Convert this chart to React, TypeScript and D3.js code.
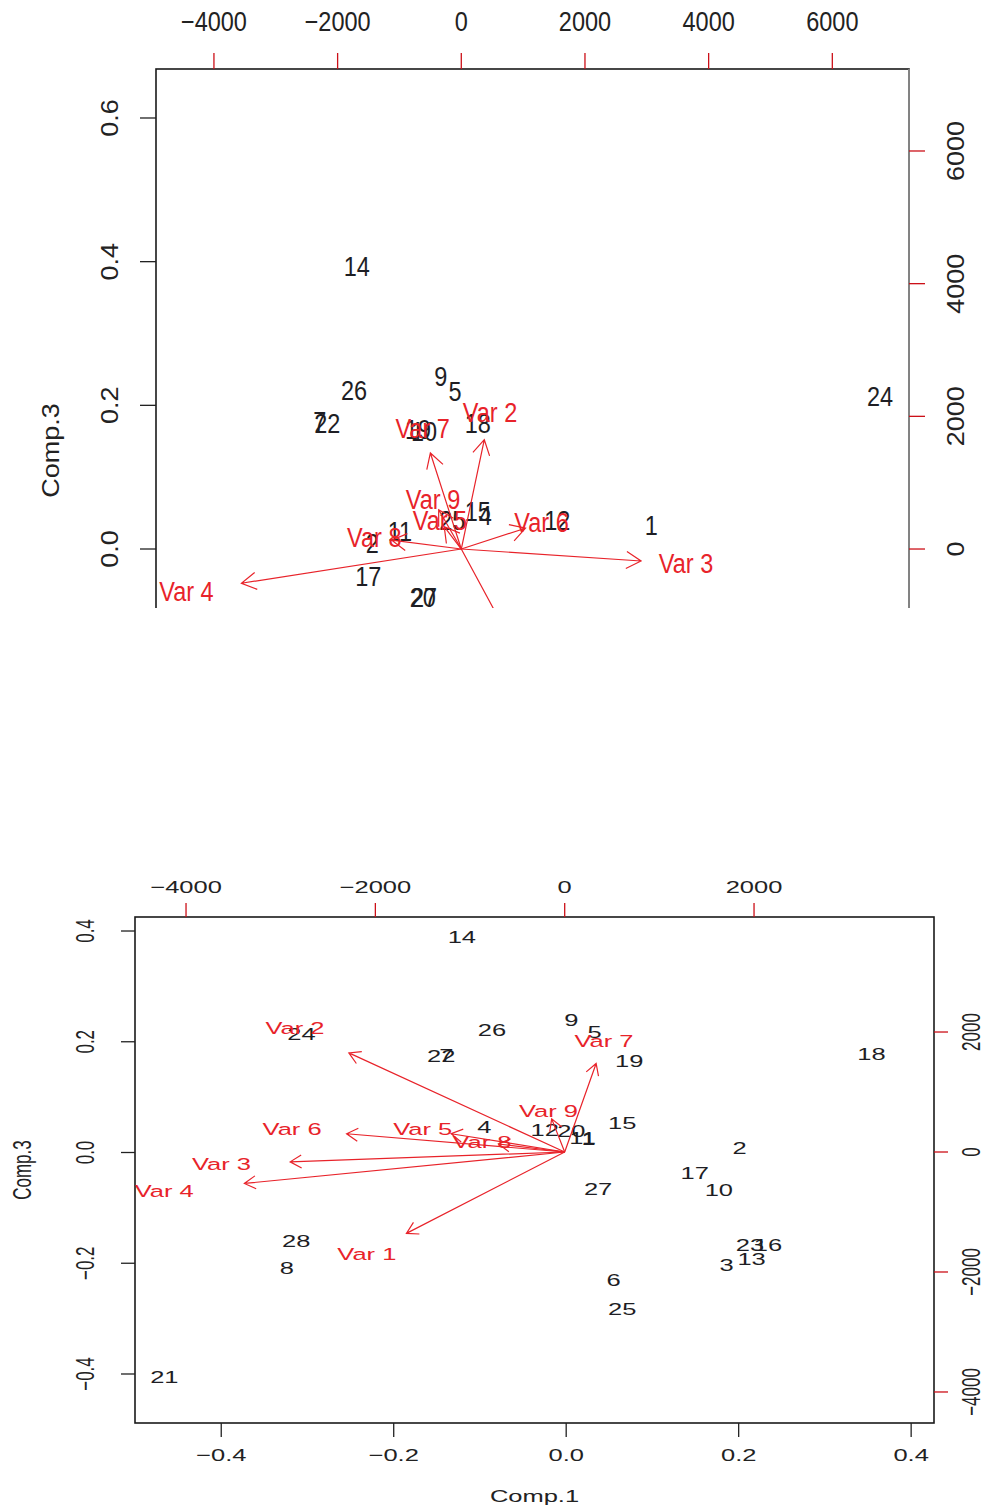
import * as d3 from "d3";
import React from "react";

// ---- upper biplot (cut off at the bottom) ----
const topObsLabels = ["14", "26", "9", "5", "7", "22", "19", "10", "18", "15", "4", "25", "12", "1", "11", "2", "17", "20", "27", "24"];
const topObsX = [-0.152, -0.156, -0.027, -0.006, -0.207, -0.196, -0.061, -0.052, 0.028, 0.028, 0.039, -0.01, 0.146, 0.286, -0.088, -0.129, -0.135, -0.054, -0.052, 0.626];
const topObsY = [0.393, 0.221, 0.24, 0.219, 0.177, 0.174, 0.166, 0.164, 0.175, 0.052, 0.046, 0.039, 0.04, 0.032, 0.024, 0.008, -0.038, -0.068, -0.068, 0.212];

const varLabels = ["Var 1", "Var 2", "Var 3", "Var 4", "Var 5", "Var 6", "Var 7", "Var 8", "Var 9"];
const topVarX = [1211, 465, 3634, -4445, -345, 1298, -625, -1407, -457];
const topVarY = [-2092, 2060, -226, -645, 422, 392, 1810, 166, 739];

const topXTicks = [-4000, -2000, 0, 2000, 4000, 6000];
const topRightTicks = [0, 2000, 4000, 6000];
const topLeftTicks = [0, 0.2, 0.4, 0.6];

// ---- lower biplot ----
const botObsLabels = ["14", "24", "26", "22", "7", "9", "5", "19", "18", "4", "12", "20", "11", "1", "15", "2", "17", "10", "27", "23", "16", "13", "3", "6", "25", "28", "8", "21"];
const botObsX = [-0.121, -0.307, -0.086, -0.145, -0.139, 0.006, 0.033, 0.073, 0.354, -0.095, -0.025, 0.006, 0.019, 0.026, 0.065, 0.201, 0.149, 0.177, 0.037, 0.213, 0.234, 0.215, 0.186, 0.055, 0.065, -0.313, -0.324, -0.466];
const botObsY = [0.389, 0.214, 0.221, 0.174, 0.176, 0.239, 0.218, 0.165, 0.178, 0.046, 0.041, 0.039, 0.026, 0.024, 0.053, 0.008, -0.037, -0.068, -0.066, -0.167, -0.167, -0.192, -0.203, -0.23, -0.283, -0.16, -0.209, -0.405];

const botVarX = [-2090, -2850, -3625, -4230, -1500, -2880, 415, -874, -172];
const botVarY = [-1695, 2065, -205, -655, 380, 380, 1845, 167, 690];

const botTopTicks = [-4000, -2000, 0, 2000];
const botRightTicks = [-4000, -2000, 0, 2000];
const botLeftTicks = [-0.4, -0.2, 0, 0.2, 0.4];
const botBottomTicks = [-0.4, -0.2, 0, 0.2, 0.4];

const RED = "#e8232a";
const TICKRED = "#cc1018";
const INK = "#1e1e24";

type Box = { l: number; r: number; t: number; b: number };

interface PanelProps {
  id: string;
  box: Box;
  clipB?: number;
  primX: [number, number];
  primY: [number, number];
  secX: [number, number];
  secY: [number, number];
  obs: string[];
  ox: number[];
  oy: number[];
  vx: number[];
  vy: number[];
  topTicks: number[];
  rightTicks: number[];
  leftTicks: number[];
  bottomTicks?: number[];
  secFmt: (v: number) => string;
  primFmt: (v: number) => string;
  axisFont: number;
  labFont: number;
  stretch: number;
  tick: number;
  off: { top: number; left: number; right: number; bottom: number; ylab: number; xlab: number };
  head: number;
  ylab: string;
  xlab?: string;
  rightGrey?: boolean;
}

// text centred on (x, y); stretch scales it horizontally in screen space
function Txt({ x, y, s, size, fill, rot = 0, children }: any) {
  return (
    <text
      transform={`translate(${x},${y}) scale(${s},1) rotate(${rot})`}
      fontSize={size}
      fill={fill}
      textAnchor="middle"
      dy="0.35em"
    >
      {children}
    </text>
  );
}

function Biplot(p: PanelProps) {
  const { box } = p;
  const x = d3.scaleLinear().domain(p.primX).range([box.l, box.r]);
  const y = d3.scaleLinear().domain(p.primY).range([box.b, box.t]);
  const x2 = d3.scaleLinear().domain(p.secX).range([box.l, box.r]);
  const y2 = d3.scaleLinear().domain(p.secY).range([box.b, box.t]);

  // R biplot: arrows reach 80% of the way to the variable label
  const arrow = (vx: number, vy: number) => {
    const x0 = x2(0), y0 = y2(0);
    const tx = x2(vx * 0.8), ty = y2(vy * 0.8);
    const a = Math.atan2(ty - y0, tx - x0);
    const L = p.head;
    const a1 = a - Math.PI / 6, a2 = a + Math.PI / 6;
    const path = d3.path();
    path.moveTo(x0, y0);
    path.lineTo(tx, ty);
    path.moveTo(tx - L * Math.cos(a1), ty - L * Math.sin(a1));
    path.lineTo(tx, ty);
    path.lineTo(tx - L * Math.cos(a2), ty - L * Math.sin(a2));
    return path.toString();
  };

  const clip = p.clipB !== undefined;

  return (
    <g fontFamily="'Liberation Sans', Arial, sans-serif">
      {clip && (
        <defs>
          <clipPath id={p.id}>
            <rect x={0} y={0} width={992} height={p.clipB} />
          </clipPath>
        </defs>
      )}
      <g clipPath={clip ? `url(#${p.id})` : undefined}>
        {/* box */}
        <rect x={box.l} y={box.t} width={box.r - box.l} height={box.b - box.t} fill="none" stroke="#1a1a1a" strokeWidth={1.6} />
        {p.rightGrey && <line x1={box.r} x2={box.r} y1={box.t} y2={box.b} stroke="#8a8a8a" strokeWidth={1.8} />}

        {/* observation labels */}
        {p.obs.map((lab, i) => (
          <Txt key={"o" + i} x={x(p.ox[i])} y={y(p.oy[i])} s={p.stretch} size={p.labFont} fill={INK}>
            {lab}
          </Txt>
        ))}

        {/* variable arrows */}
        {p.vx.map((v, i) => (
          <path key={"a" + i} d={arrow(v, p.vy[i])} fill="none" stroke={RED} strokeWidth={1.2} />
        ))}
        {varLabels.map((lab, i) => (
          <Txt key={"v" + i} x={x2(p.vx[i])} y={y2(p.vy[i])} s={p.stretch} size={p.labFont} fill={RED}>
            {lab}
          </Txt>
        ))}

        {/* left axis */}
        {p.leftTicks.map((t) => (
          <g key={"l" + t}>
            <line x1={box.l - p.tick} x2={box.l} y1={y(t)} y2={y(t)} stroke="#222" strokeWidth={1.3} />
            <Txt x={box.l - p.off.left} y={y(t)} s={p.stretch} size={p.axisFont} fill="#222" rot={-90}>
              {p.primFmt(t)}
            </Txt>
          </g>
        ))}

        {/* right axis (loadings) */}
        {p.rightTicks.map((t) => (
          <g key={"r" + t}>
            <line x1={box.r} x2={box.r + p.tick} y1={y2(t)} y2={y2(t)} stroke={TICKRED} strokeWidth={1.3} />
            <Txt x={box.r + p.off.right} y={y2(t)} s={p.stretch} size={p.axisFont} fill="#222" rot={-90}>
              {p.secFmt(t)}
            </Txt>
          </g>
        ))}

        {/* bottom axis */}
        {p.bottomTicks &&
          p.bottomTicks.map((t) => (
            <g key={"b" + t}>
              <line x1={x(t)} x2={x(t)} y1={box.b} y2={box.b + p.tick} stroke="#222" strokeWidth={1.3} />
              <Txt x={x(t)} y={box.b + p.off.bottom} s={p.stretch} size={p.axisFont} fill="#222">
                {p.primFmt(t)}
              </Txt>
            </g>
          ))}
        {p.xlab && (
          <Txt x={(box.l + box.r) / 2} y={box.b + p.off.xlab} s={p.stretch} size={p.axisFont} fill="#222">
            {p.xlab}
          </Txt>
        )}
      </g>

      {/* top axis (loadings) */}
      {p.topTicks.map((t) => (
        <g key={"t" + t}>
          <line x1={x2(t)} x2={x2(t)} y1={box.t - p.tick} y2={box.t} stroke={TICKRED} strokeWidth={1.3} />
          <Txt x={x2(t)} y={box.t - p.off.top} s={p.stretch} size={p.axisFont} fill="#222">
            {p.secFmt(t)}
          </Txt>
        </g>
      ))}

      <Txt x={box.l - p.off.ylab} y={(box.t + Math.min(box.b, p.clipB ?? box.b)) / 2 + (clip ? 112 : 0)} s={p.stretch} size={p.axisFont} fill="#222" rot={-90}>
        {p.ylab}
      </Txt>
    </g>
  );
}

export default function App() {
  const fmt1 = d3.format(".1f");
  const fmtInt = d3.format("d");
  return (
    <svg width={992} height={1506} style={{ position: "absolute", left: 0, top: 0, background: "#fff" }}>
      <rect width={992} height={1506} fill="#fff" />
      <Biplot
        id="clipTop"
        box={{ l: 156, r: 909, t: 69, b: 700 }}
        clipB={608}
        primX={[-0.4506, 0.6691]}
        primY={[-0.2102, 0.6682]}
        secX={[-4937, 7240]}
        secY={[-2276, 7236]}
        obs={topObsLabels}
        ox={topObsX}
        oy={topObsY}
        vx={topVarX}
        vy={topVarY}
        topTicks={topXTicks}
        rightTicks={topRightTicks}
        leftTicks={topLeftTicks}
        secFmt={fmtInt}
        primFmt={fmt1}
        axisFont={27}
        labFont={27}
        stretch={0.87}
        tick={16}
        off={{ top: 47, left: 46, right: 47, bottom: 0, ylab: 105, xlab: 0 }}
        head={17}
        ylab="Comp.3"
        rightGrey
      />
      <Biplot
        id="clipBot"
        box={{ l: 135, r: 934, t: 917, b: 1423 }}
        primX={[-0.5, 0.4265]}
        primY={[-0.4885, 0.4253]}
        secX={[-4539, 3901]}
        secY={[-4517, 3917]}
        obs={botObsLabels}
        ox={botObsX}
        oy={botObsY}
        vx={botVarX}
        vy={botVarY}
        topTicks={botTopTicks}
        rightTicks={botRightTicks}
        leftTicks={botLeftTicks}
        bottomTicks={botBottomTicks}
        secFmt={fmtInt}
        primFmt={fmt1}
        axisFont={17}
        labFont={17}
        stretch={1.5}
        tick={14}
        off={{ top: 30, left: 50, right: 37, bottom: 32, ylab: 113, xlab: 73 }}
        head={13}
        ylab="Comp.3"
        xlab="Comp.1"
      />
    </svg>
  );
}
